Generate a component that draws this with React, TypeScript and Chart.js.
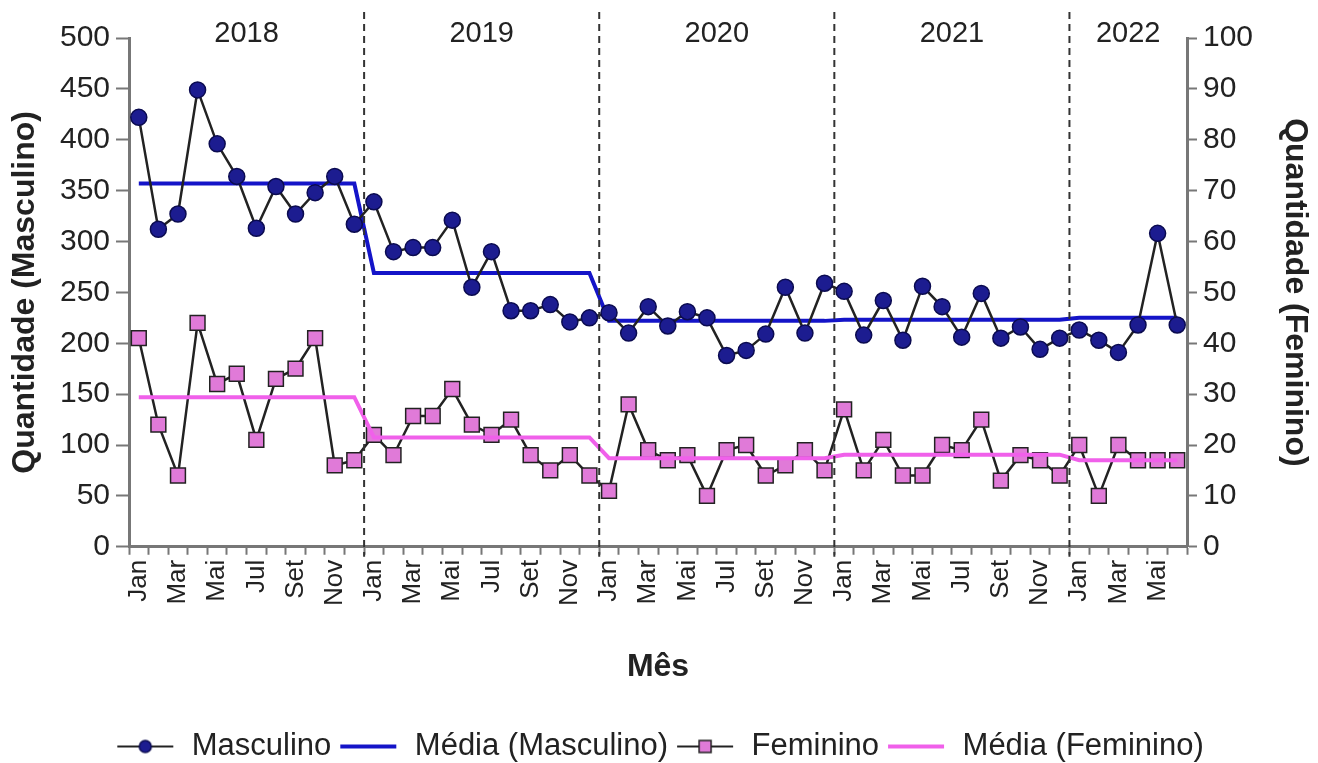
import React, { useEffect, useRef } from "react";
import { Chart, registerables } from "chart.js";

Chart.register(...registerables);

const monthNames = ["Jan", "Fev", "Mar", "Abr", "Mai", "Jun", "Jul", "Ago", "Set", "Out", "Nov", "Dez"];
const years = ["2018", "2019", "2020", "2021", "2022"];
const monthsPerYear = [12, 12, 12, 12, 6];

const masculino = [
  422, 312, 327, 449, 396, 364, 313, 354, 327, 348, 364, 317,
  339, 290, 294, 294, 321, 255, 290, 232, 232, 238, 221, 225,
  230, 210, 236, 217, 231, 225, 188, 193, 209, 255, 210, 259,
  251, 208, 242, 203, 256, 236, 206, 249, 205, 216, 194, 205,
  213, 203, 191, 218, 308, 218,
];
const mediaMasculinoAno = [357, 269, 222, 223, 225];

const feminino = [
  41, 24, 14, 44, 32, 34, 21, 33, 35, 41, 16, 17,
  22, 18, 25.7, 25.7, 31, 24, 22, 25, 18, 15, 18, 14,
  11, 28, 19, 17, 18, 10, 19, 20, 14, 16, 19, 15,
  27, 15, 21, 14, 14, 20, 19, 25, 13, 18, 17, 14,
  20, 10, 20, 17, 17, 17,
];
const mediaFemininoAno = [29.4, 21.5, 17.4, 18.1, 17];

const leftTicks = [0, 50, 100, 150, 200, 250, 300, 350, 400, 450, 500];
const rightTicks = [0, 10, 20, 30, 40, 50, 60, 70, 80, 90, 100];

const FONT = "'Liberation Sans', Arial, sans-serif";

const labels: string[] = [];
const yearOfIndex: number[] = [];
monthsPerYear.forEach((n, yi) => {
  for (let m = 0; m < n; m++) {
    labels.push(monthNames[m]);
    yearOfIndex.push(yi);
  }
});
const mediaMasculino = yearOfIndex.map((yi) => mediaMasculinoAno[yi]);
const mediaFeminino = yearOfIndex.map((yi) => mediaFemininoAno[yi]);

function makeSymbol(lineColor: string, lineWidth: number, marker: "circle" | "rect" | null, fill?: string) {
  const c = document.createElement("canvas");
  c.width = 60;
  c.height = 22;
  const ctx = c.getContext("2d")!;
  ctx.strokeStyle = lineColor;
  ctx.lineWidth = lineWidth;
  ctx.beginPath();
  ctx.moveTo(2, 11);
  ctx.lineTo(58, 11);
  ctx.stroke();
  if (marker === "circle") {
    ctx.beginPath();
    ctx.arc(30, 11, 6, 0, Math.PI * 2);
    ctx.fillStyle = fill!;
    ctx.fill();
    ctx.lineWidth = 1.5;
    ctx.strokeStyle = "#0b0b50";
    ctx.stroke();
  } else if (marker === "rect") {
    ctx.fillStyle = fill!;
    ctx.fillRect(24, 5, 12, 12);
    ctx.lineWidth = 1.5;
    ctx.strokeStyle = "#222";
    ctx.strokeRect(24, 5, 12, 12);
  }
  return c;
}

const overlayPlugin = {
  id: "yearOverlay",
  afterDraw(chart: any) {
    const { ctx, chartArea, scales } = chart;
    const x = scales.x;
    ctx.save();
    let start = 0;
    monthsPerYear.forEach((n, yi) => {
      const first = x.getPixelForValue(start);
      const last = x.getPixelForValue(start + n - 1);
      ctx.fillStyle = "#222";
      ctx.font = `29px ${FONT}`;
      ctx.textAlign = "center";
      ctx.textBaseline = "middle";
      ctx.fillText(years[yi], (first + last) / 2, chartArea.top - 4);
      if (yi > 0) {
        const bx = (x.getPixelForValue(start - 1) + first) / 2;
        ctx.strokeStyle = "#333";
        ctx.lineWidth = 2;
        ctx.setLineDash([7, 5]);
        ctx.beginPath();
        ctx.moveTo(bx, chartArea.top - 26);
        ctx.lineTo(bx, chartArea.bottom + 10);
        ctx.stroke();
      }
      start += n;
    });
    ctx.restore();
  },
};

export default function App() {
  const ref = useRef<HTMLCanvasElement | null>(null);
  useEffect(() => {
    document.body.style.margin = "0";
    const symbols = [
      makeSymbol("#222", 2, "circle", "#1c1c90"),
      makeSymbol("#1414c8", 4, null),
      makeSymbol("#222", 2, "rect", "#e07ad8"),
      makeSymbol("#f060ea", 4, null),
    ];
    const names = ["Masculino", "Média (Masculino)", "Feminino", "Média (Feminino)"];
    const chart = new Chart(ref.current!, {
      type: "line",
      data: {
        labels,
        datasets: [
          {
            label: "Masculino",
            data: masculino,
            yAxisID: "y",
            borderColor: "#222",
            borderWidth: 2.5,
            pointRadius: 8,
            pointBackgroundColor: "#1c1c90",
            pointBorderColor: "#0b0b50",
            pointBorderWidth: 1.5,
            order: 1,
          },
          {
            label: "Média (Masculino)",
            data: mediaMasculino,
            yAxisID: "y",
            borderColor: "#1414c8",
            borderWidth: 4,
            pointRadius: 0,
            order: 2,
          },
          {
            label: "Feminino",
            data: feminino,
            yAxisID: "y1",
            borderColor: "#222",
            borderWidth: 2.5,
            pointStyle: "rect",
            pointRadius: 10.5,
            pointBackgroundColor: "#e07ad8",
            pointBorderColor: "#222",
            pointBorderWidth: 1.5,
            order: 3,
          },
          {
            label: "Média (Feminino)",
            data: mediaFeminino,
            yAxisID: "y1",
            borderColor: "#f060ea",
            borderWidth: 4,
            pointRadius: 0,
            order: 0,
          },
        ],
      },
      options: {
        responsive: false,
        animation: false,
        layout: { padding: { top: 38, bottom: -9, left: 0, right: 0 } },
        plugins: {
          tooltip: { enabled: false },
          legend: {
            position: "bottom",
            labels: {
              usePointStyle: true,
              pointStyleWidth: 62,
              padding: 6,
              color: "#222",
              font: { family: FONT, size: 31 },
              generateLabels: () =>
                names.map((t, i) => ({
                  text: t,
                  pointStyle: symbols[i] as any,
                  fillStyle: "transparent",
                  strokeStyle: "transparent",
                  lineWidth: 0,
                  hidden: false,
                  datasetIndex: i,
                  fontColor: "#222",
                })),
            },
          },
        },
        scales: {
          x: {
            type: "category",
            offset: true,
            grid: {
              offset: true,
              drawOnChartArea: false,
              drawTicks: true,
              tickLength: 8,
              tickColor: "#777",
              tickWidth: 2,
            },
            border: { color: "#777", width: 3 },
            ticks: {
              autoSkip: false,
              maxRotation: 90,
              minRotation: 90,
              padding: 5,
              color: "#222",
              font: { family: FONT, size: 26 },
              callback: (_v: any, i: number) => (i % 2 === 0 ? labels[i] : ""),
            },
            title: {
              display: true,
              text: "Mês",
              color: "#222",
              font: { family: FONT, size: 32, weight: "bold", lineHeight: 1 },
              padding: { top: 40, bottom: 42 },
            },
          },
          y: {
            position: "left",
            min: 0,
            max: 500,
            afterBuildTicks: (s: any) => {
              s.ticks = leftTicks.map((v) => ({ value: v }));
            },
            afterFit: (s: any) => {
              s.width = 129;
            },
            grid: { drawOnChartArea: false, tickLength: 13, tickColor: "#777", tickWidth: 2 },
            border: { color: "#777", width: 3 },
            ticks: { color: "#222", padding: 6, font: { family: FONT, size: 30 } },
            title: {
              display: true,
              text: "Quantidade (Masculino)",
              color: "#222",
              font: { family: FONT, size: 32, weight: "bold", lineHeight: 1 },
              padding: { top: 9, bottom: 0 },
            },
          },
          y1: {
            position: "right",
            min: 0,
            max: 100,
            afterBuildTicks: (s: any) => {
              s.ticks = rightTicks.map((v) => ({ value: v }));
            },
            afterFit: (s: any) => {
              s.width = 131;
            },
            grid: { drawOnChartArea: false, tickLength: 10, tickColor: "#777", tickWidth: 2 },
            border: { color: "#777", width: 3 },
            ticks: { color: "#222", padding: 6, font: { family: FONT, size: 30 } },
            title: {
              display: true,
              text: "Quantidade (Feminino)",
              color: "#222",
              font: { family: FONT, size: 32, weight: "bold", lineHeight: 1 },
              padding: { top: 7, bottom: 0 },
            },
          },
        },
      },
      plugins: [overlayPlugin],
    });
    return () => chart.destroy();
  }, []);
  return (
    <div style={{ width: 1318, height: 763 }}>
      <canvas ref={ref} width={1318} height={763} />
    </div>
  );
}
